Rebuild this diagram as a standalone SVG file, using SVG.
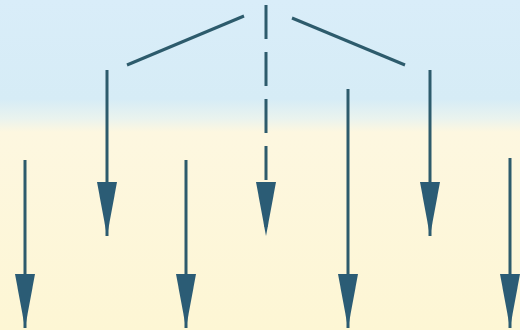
<svg xmlns="http://www.w3.org/2000/svg" width="520" height="330" viewBox="0 0 520 330">
  <defs>
    <linearGradient id="bg" x1="0" y1="0" x2="0" y2="1">
      <stop offset="0" stop-color="#d9edf9"/>
      <stop offset="0.3" stop-color="#d6ecf6"/>
      <stop offset="0.36" stop-color="#eaf3ee"/>
      <stop offset="0.4" stop-color="#fdf7e0"/>
      <stop offset="1" stop-color="#fdf6d4"/>
    </linearGradient>
    <marker id="head" viewBox="0 0 54 22" refX="54" refY="11" markerWidth="54" markerHeight="22" markerUnits="userSpaceOnUse" orient="auto">
      <path d="M0,1 L54,11 L0,21 Z" fill="#2b5c75"/>
    </marker>
  </defs>
  <style>
    .c { stroke: #2d5b6c; stroke-width: 3; fill: none; }
    .a { marker-end: url(#head); }
    .d { stroke-dasharray: 34 13; }
  </style>
  <rect width="520" height="330" fill="url(#bg)"/>
  <g id="connectors">
    <line class="c" x1="244" y1="16" x2="127" y2="65"/>
    <line class="c" x1="292" y1="18" x2="405" y2="65"/>
    <line class="c d a" x1="266" y1="5" x2="266" y2="236"/>
    <line class="c a" x1="107" y1="70" x2="107" y2="236"/>
    <line class="c a" x1="430" y1="70" x2="430" y2="236"/>
    <line class="c a" x1="25" y1="160" x2="25" y2="328"/>
    <line class="c a" x1="186" y1="160" x2="186" y2="328"/>
    <line class="c a" x1="348" y1="89" x2="348" y2="328"/>
    <line class="c a" x1="510" y1="158" x2="510" y2="328"/>
  </g>
</svg>
